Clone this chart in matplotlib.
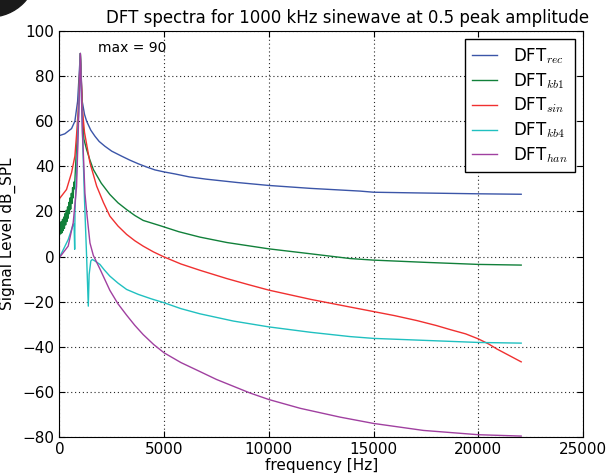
import matplotlib
matplotlib.use("Agg")
import matplotlib.pyplot as plt
from matplotlib.patches import Ellipse

plt.rcParams["mathtext.fontset"] = "cm"

# values (frequency in Hz, level in dB)
f_rec = [0, 260, 580, 740, 870, 1000, 1090, 1200, 1300, 1500, 1700, 1900, 2170,
         2500, 2970, 3370, 3770, 4160, 4560, 5000, 5520, 6200, 7000, 8500, 10000,
         12000, 14360, 15000, 17000, 20000, 22050]
db_rec = [53.6, 54.4, 56.7, 60, 68.8, 90, 68.8, 63, 60, 56, 53.3, 51, 48.9,
          46.7, 44.5, 42.7, 41.1, 39.7, 38.4, 37.5, 36.6, 35.3, 34.3, 32.8, 31.5,
          30.2, 29.0, 28.5, 28.2, 27.8, 27.6]

f_kb1 = [0, 30, 60, 90, 120, 150, 180, 210, 240, 270, 300, 330, 360, 390, 420,
         450, 480, 510, 540, 570, 600, 630, 660, 690, 720,
         800, 900, 1000, 1100, 1170, 1300, 1450, 1620, 2000, 2410, 2800, 3210,
         3600, 4000, 4800, 5700, 6710, 8000, 10000, 12000, 13880, 15000, 17500,
         20000, 22050]
db_kb1 = [9.5, 15, 10, 15.5, 10.5, 16.5, 11.5, 17.5, 12.5, 19, 14, 20.5, 15.5, 22, 17,
          24, 19, 26, 21, 28, 23.5, 30.5, 26, 33, 30,
          45, 60, 90, 63, 52, 47.4, 43, 38.6, 32.5, 27.5, 23.8, 20.8,
          18.2, 16, 13.7, 11, 8.6, 6.2, 3.4, 1.2, -0.9, -1.6, -2.6,
          -3.5, -3.8]

f_sin = [0, 340, 580, 740, 820, 900, 1000, 1100, 1200, 1460, 1780, 2100, 2410,
         2800, 3210, 3600, 4000, 4500, 5000, 5800, 6710, 8000, 9000, 10000, 12000,
         13880, 15000, 16000, 17070, 18000, 18660, 19400, 20000, 20500, 20890,
         21400, 22050]
db_sin = [25.6, 29.7, 37.1, 44.5, 54, 65, 90, 65, 55, 41.5, 31.2, 24, 17.9,
          13.5, 9.8, 7, 4.6, 2, -0.2, -3.3, -6.1, -9.8, -12.4, -14.9, -19,
          -22.4, -24.4, -26.2, -28.4, -30.6, -32.4, -34.3, -36.5, -38.8, -41,
          -43.5, -46.7]

f_kb4 = [0, 420, 660, 700, 730, 745, 850, 1000, 1100, 1200, 1300, 1380, 1420,
         1500, 1570, 1700, 1935, 2150, 2410, 2800, 3210, 3770, 4400, 5000, 5800,
         6710, 8300, 10000, 12000, 13880, 15000, 20000, 22050]
db_kb4 = [-0.5, 7.5, 14.2, 14.5, 3.2, 20, 45, 90, 55, 25, 0, -22, -8,
          -2, -1.3, -2, -3.5, -6, -8.7, -11.8, -14.6, -16.8, -18.8, -20.5, -23.1,
          -25.4, -28.6, -31.2, -33.6, -35.5, -36.3, -38.1, -38.4]

f_han = [0, 420, 660, 820, 900, 1000, 1100, 1140, 1220, 1300, 1460, 1620, 1935,
         2410, 2800, 3210, 3600, 4000, 4500, 5000, 5800, 6710, 7500, 8300, 9100,
         10000, 11500, 13400, 15000, 17380, 20000, 22050]
db_han = [-0.5, 4.6, 15, 31, 55, 90, 55, 46.7, 28, 20, 6, 0.5, -5.5,
          -15, -21, -26, -30.5, -34.6, -39, -42.7, -47, -51, -54.5, -57.5, -60.5,
          -63.4, -67.3, -71.2, -74.0, -77.1, -79.0, -79.6]

labels = ["DFT$_{rec}$", "DFT$_{kb1}$", "DFT$_{sin}$", "DFT$_{kb4}$", "DFT$_{han}$"]
colors = ["#3b55a8", "#11803a", "#f03030", "#20c0c0", "#a040a0"]

fig = plt.figure(figsize=(6.06, 4.76), dpi=100)
ax = fig.add_axes([0.098, 0.082, 0.864, 0.853])

series = [(f_rec, db_rec), (f_kb1, db_kb1), (f_sin, db_sin), (f_kb4, db_kb4), (f_han, db_han)]
for (f, db), lab, col in zip(series, labels, colors):
    ax.plot(f, db, color=col, lw=1.0, label=lab)

ax.set_xlim(0, 25000)
ax.set_ylim(-80, 100)
ax.set_xticks(range(0, 25001, 5000))
ax.set_yticks(range(-80, 101, 20))
ax.tick_params(direction="in", top=True, right=True, labelsize=11, length=4)
ax.grid(True, color="0.15", linestyle=(0, (1, 2.5)), linewidth=0.8)

ax.set_title("DFT spectra for 1000 kHz sinewave at 0.5 peak amplitude", fontsize=12, x=0.55)
ax.set_xlabel("frequency [Hz]", fontsize=11, labelpad=1)
ax.set_ylabel("Signal Level dB_SPL", fontsize=11)
ax.yaxis.set_label_coords(-0.083, 0.5)
ax.text(1850, 92.5, "max = 90", fontsize=10, va="center")

leg = ax.legend(loc="upper right", fontsize=12, fancybox=False, framealpha=1,
                edgecolor="black", handlelength=1.5, handletextpad=1.0,
                labelspacing=0.3, borderaxespad=0.5)
leg.get_frame().set_linewidth(1.0)

# dark corner blob in the reference screenshot
fig.add_artist(Ellipse((-10 / 606, 506 / 476), 94 / 606, 94 / 476,
                       transform=fig.transFigure, color="#1a1a1a", zorder=10))

fig.savefig("out.png", dpi=100)
